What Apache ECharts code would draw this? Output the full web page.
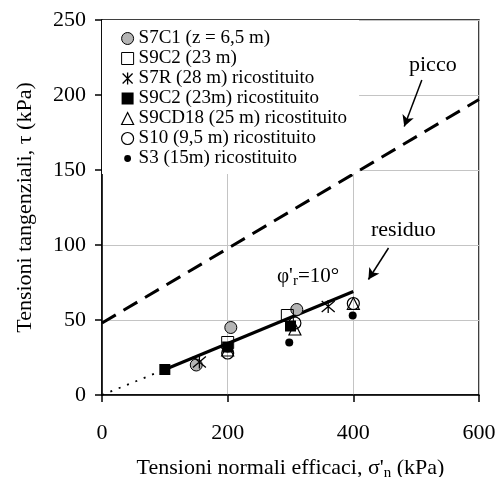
<!DOCTYPE html>
<html>
<head>
<meta charset="utf-8">
<title>Tensioni</title>
<script src="https://cdn.jsdelivr.net/npm/echarts@6/dist/echarts.min.js"></script>
<style>
  html, body {margin:0;padding:0;background:#fff;}
  #chart {width:500px;height:477px;}
</style>
</head>
<body>
<div id="chart"></div>
<script>
// data
var xTicks = [0, 200, 400, 600];
var yTicks = [0, 50, 100, 150, 200, 250];

var s7c1   = [[150, 20], [205, 45], [310, 57]];
var s9c2   = [[200, 35], [295, 53]];
var s7r    = [[155, 22], [360, 59]];
var s9c2r  = [[100, 17], [200, 32], [300, 46]];
var s9cd18 = [[200, 30], [307, 44], [400, 61]];
var s10    = [[200, 28], [307, 48], [400, 61]];
var s3     = [[200, 31], [298, 35], [399, 53]];

var residuoLine = [[100, 17], [400, 69]];
var residuoDot  = [[0, 0], [100, 17]];
var piccoLine   = [[0, 48], [600, 197]];

var arrowPicco   = [[509, 210], [481, 179]];
var arrowResiduo = [[456, 98], [424, 77]];

var names = ['S7C1 (z = 6,5 m)', 'S9C2 (23 m)', 'S7R (28 m) ricostituito',
  'S9C2 (23m) ricostituito', 'S9CD18 (25 m) ricostituito',
  'S10 (9,5 m) ricostituito', 'S3 (15m) ricostituito'];

var FONT = "'Liberation Serif', 'Times New Roman', serif";
var starPath = 'path://M0,0 L10,10 M10,0 L0,10 M5,-1 L5,11';
var dotPath = 'path://M0,0 L0,0 M14,14 L14,14 M3,7 A4,4 0 1,1 11,7 A4,4 0 1,1 3,7 Z';
var clear = 'rgba(255,255,255,0)';

var chart = echarts.init(document.getElementById('chart'), null, {renderer: 'canvas'});

function scat(name, data, symbol, size, color, bw) {
  return {
    name: name, type: 'scatter', data: data,
    symbol: symbol, symbolSize: size,
    itemStyle: {color: color, borderColor: '#000', borderWidth: bw, opacity: 1},
    emphasis: {disabled: true}, z: 5
  };
}

var option = {
  backgroundColor: '#fff',
  animation: false,
  grid: {left: 102, right: 21, top: 20, bottom: 82, containLabel: false, outerBoundsMode: 'none',
    show: true, borderColor: '#000', borderWidth: 1.5, backgroundColor: 'transparent'},
  xAxis: {
    type: 'value', min: 0, max: 600, interval: 200,
    name: "Tensioni normali efficaci, {s|σ'}{sub|n} (kPa)",
    nameLocation: 'middle', nameGap: 61,
    nameTextStyle: {fontFamily: FONT, fontSize: 22, color: '#000',
      rich: {s: {fontFamily: FONT, fontSize: 22, color: '#000'},
             sub: {fontFamily: FONT, fontSize: 15, color: '#000', padding: [10, 0, 0, 0]}}},
    axisLine: {lineStyle: {color: '#000', width: 1.5}},
    axisTick: {show: true, length: 7, lineStyle: {color: '#000', width: 1.5}},
    axisLabel: {fontFamily: FONT, fontSize: 22, color: '#000', margin: 27},
    splitLine: {show: true, lineStyle: {color: '#c4c4c4', width: 1}}
  },
  yAxis: {
    type: 'value', min: 0, max: 250, interval: 50,
    name: 'Tensioni tangenziali, τ (kPa)',
    nameLocation: 'middle', nameGap: 66,
    nameTextStyle: {fontFamily: FONT, fontSize: 22, color: '#000'},
    axisLine: {show: true, lineStyle: {color: '#000', width: 1.5}},
    axisTick: {show: true, length: 7, lineStyle: {color: '#000', width: 1.5}},
    axisLabel: {fontFamily: FONT, fontSize: 22, color: '#000', margin: 16},
    splitLine: {show: true, lineStyle: {color: '#c4c4c4', width: 1}}
  },
  legend: {
    orient: 'vertical', left: 102, top: 20,
    padding: [9, 12, 6, 19],
    backgroundColor: '#fff',
    itemWidth: 12, itemHeight: 12, itemGap: 1,
    textStyle: {fontFamily: FONT, fontSize: 19, color: '#000'},
    selectedMode: false,
    data: [
      {name: names[0], icon: 'circle', itemStyle: {color: '#b4b4b4', borderColor: '#000', borderWidth: 1}},
      {name: names[1], icon: 'rect', itemStyle: {color: clear, borderColor: '#000', borderWidth: 1}},
      {name: names[2], icon: starPath, itemStyle: {color: clear, borderColor: '#000', borderWidth: 1.3}},
      {name: names[3], icon: 'rect', itemStyle: {color: '#000', borderColor: '#000', borderWidth: 0}},
      {name: names[4], icon: 'triangle', itemStyle: {color: clear, borderColor: '#000', borderWidth: 1.2}},
      {name: names[5], icon: 'circle', itemStyle: {color: clear, borderColor: '#000', borderWidth: 1.2}},
      {name: names[6], icon: dotPath, itemStyle: {color: '#000', borderColor: '#000', borderWidth: 0}}
    ]
  },
  graphic: [
    {type: 'text', left: 409, top: 54, z: 10, style: {text: 'picco', font: '22px ' + FONT, fill: '#000'}},
    {type: 'text', left: 371, top: 219, z: 10, style: {text: 'residuo', font: '22px ' + FONT, fill: '#000'}},
    {type: 'text', left: 277, top: 266, z: 10, style: {
      text: "{a|φ'}{b|r}{a|=10°}",
      rich: {a: {fontFamily: FONT, fontSize: 21, fill: '#000'},
             b: {fontFamily: FONT, fontSize: 15, fill: '#000', padding: [9, 0, 0, 0]}}}}
  ],
  series: [
    {
      name: 'picco', type: 'line', data: piccoLine, symbol: 'none', z: 3,
      lineStyle: {color: '#000', width: 3, type: [16, 9]},
      markLine: {
        silent: true, symbol: ['none', 'arrow'], symbolSize: [9, 11],
        label: {show: false},
        lineStyle: {color: '#000', width: 1.5, type: 'solid'},
        data: [
          [{coord: arrowPicco[0]}, {coord: arrowPicco[1]}],
          [{coord: arrowResiduo[0]}, {coord: arrowResiduo[1]}]
        ]
      }
    },
    {
      name: 'residuo', type: 'line', data: residuoLine, symbol: 'none', z: 4,
      lineStyle: {color: '#000', width: 3}
    },
    {
      name: 'residuo0', type: 'line', data: residuoDot, symbol: 'none', z: 4,
      lineStyle: {color: '#000', width: 1.8, type: [2, 7]}
    },
    scat(names[0], s7c1, 'circle', 12, '#b4b4b4', 1),
    scat(names[1], s9c2, 'rect', 12, clear, 1),
    scat(names[2], s7r, starPath, 13, clear, 1.3),
    scat(names[3], s9c2r, 'rect', 11, '#000', 0),
    scat(names[4], s9cd18, 'triangle', 12, clear, 1.2),
    scat(names[5], s10, 'circle', 12, clear, 1.2),
    scat(names[6], s3, 'circle', 8, '#000', 0)
  ]
};

chart.setOption(option);
window.onresize = function () { chart.resize(); };
</script>
</body>
</html>
